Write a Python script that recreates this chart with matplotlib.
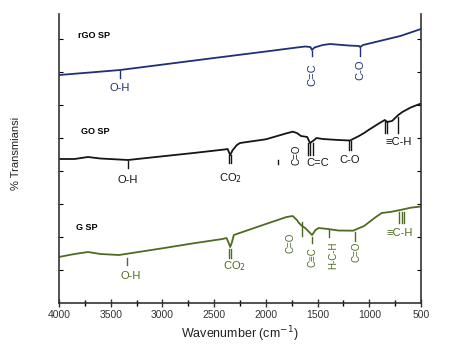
import numpy as np
import matplotlib
matplotlib.use("Agg")
import matplotlib.pyplot as plt

plt.rcParams['font.family'] = ['Liberation Sans', 'DejaVu Sans']

# wavenumbers (cm-1) and offset transmittance (arbitrary units) for each sample
rgo_wn = [4000, 3700, 3410, 3000, 2500, 2000, 1700, 1620, 1570, 1553, 1530, 1450,
          1380, 1200, 1100, 1089, 1060, 900, 700, 500]
rgo_t = [228, 230.5, 233, 238.4, 245, 251.5, 255.5, 256.5, 256, 253, 255.5, 258,
         259, 257.5, 257, 256, 258, 262, 267, 274]

go_wn = [4000, 3850, 3720, 3600, 3333, 3000, 2700, 2400, 2370, 2345, 2320, 2280,
         2250, 2000, 1800, 1740, 1700, 1660, 1600, 1573, 1545, 1510, 1450, 1300,
         1186, 1100, 1050, 1000, 900, 850, 828, 780, 720, 680, 600, 500]
go_t = [144, 144, 146, 144.5, 143, 146.7, 150, 153.5, 154, 148, 153, 158,
        160, 163.7, 169.7, 171.3, 170, 167, 166, 160, 162, 165, 164, 163,
        162.5, 167, 170, 173.5, 180, 183, 181, 182, 188, 191, 195.5, 199.5]

g_wn = [4000, 3850, 3720, 3600, 3420, 3000, 2700, 2420, 2380, 2355, 2345, 2330,
        2310, 2000, 1800, 1740, 1700, 1680, 1650, 1620, 1553, 1520, 1490, 1400,
        1300, 1157, 1050, 950, 880, 800, 700, 600, 500]
g_t = [46, 49, 51, 49, 48, 54.7, 59.7, 64, 65, 59, 56, 60,
       68, 79, 86, 87, 83, 80, 77, 75, 68, 73, 75, 74,
       72.5, 72.3, 77, 85, 90, 91, 93, 95.3, 96.5]

xticks = [4000, 3500, 3000, 2500, 2000, 1500, 1000, 500]

BLUE = '#1f2f78'
BLACK = '#151515'
GREEN = '#4f6b22'


def mark(ax, wn, top, bottom, n, color):
    # n short vertical strokes (single/double/triple bond sign)
    for k in range(n):
        x = wn + (k - (n - 1) / 2) * 24
        ax.plot([x, x], [top, bottom], color=color, lw=1.0)


def main():
    fig = plt.figure(figsize=(4.49, 3.56), dpi=100)
    ax = fig.add_axes([59 / 449, 53 / 356, 362 / 449, 289 / 356])

    ax.plot(rgo_wn, rgo_t, color=BLUE, lw=1.3)
    ax.plot(go_wn, go_t, color=BLACK, lw=1.3)
    ax.plot(g_wn, g_t, color=GREEN, lw=1.3)

    ax.set_xlim(4000, 500)
    ax.set_ylim(0, 289)

    # rGO SP
    ax.text(3816, 267, 'rGO SP', fontsize=6.5, fontweight='bold', va='center')
    mark(ax, 3410, 232, 225, 1, BLUE)
    ax.text(3410, 215, 'O-H', color=BLUE, fontsize=8, ha='center', va='center')
    mark(ax, 1553, 252, 247, 1, BLUE)
    ax.text(1553, 228, 'C=C', color=BLUE, fontsize=8, ha='center', va='center', rotation=90)
    mark(ax, 1089, 256, 247, 1, BLUE)
    ax.text(1089, 233, 'C-O', color=BLUE, fontsize=8, ha='center', va='center', rotation=90)

    # GO SP
    ax.text(3787, 171, 'GO SP', fontsize=6.5, fontweight='bold', va='center')
    mark(ax, 3333, 142, 135, 1, BLACK)
    ax.text(3333, 123, 'O-H', color=BLACK, fontsize=8, ha='center', va='center')
    mark(ax, 2345, 148, 140, 2, BLACK)
    ax.text(2345, 125, 'CO$_2$', color=BLACK, fontsize=8, ha='center', va='center')
    mark(ax, 1883, 143, 139, 1, BLACK)
    ax.text(1700, 148, 'C=O', color=BLACK, fontsize=7, ha='center', va='center', rotation=90)
    mark(ax, 1573, 160, 148, 3, BLACK)
    ax.text(1500, 140, 'C=C', color=BLACK, fontsize=8, ha='center', va='center')
    mark(ax, 1186, 162, 153, 2, BLACK)
    ax.text(1186, 143, 'C-O', color=BLACK, fontsize=8, ha='center', va='center')
    mark(ax, 838, 182, 170, 2, BLACK)
    mark(ax, 720, 186, 170, 1, BLACK)
    ax.text(720, 161, '\u2261C-H', color=BLACK, fontsize=8, ha='center', va='center')

    # G SP
    ax.text(3836, 75, 'G SP', fontsize=6.5, fontweight='bold', va='center')
    mark(ax, 3340, 45, 38, 1, GREEN)
    ax.text(3310, 27, 'O-H', color=GREEN, fontsize=8, ha='center', va='center')
    mark(ax, 2345, 54, 45, 2, GREEN)
    ax.text(2308, 37, 'CO$_2$', color=GREEN, fontsize=8, ha='center', va='center')
    mark(ax, 1650, 81, 67, 1, GREEN)
    ax.text(1757, 60, 'C=O', color=GREEN, fontsize=7, ha='center', va='center', rotation=90)
    mark(ax, 1553, 66, 60, 1, GREEN)
    ax.text(1553, 46, 'C\u2261C', color=GREEN, fontsize=7, ha='center', va='center', rotation=90)
    mark(ax, 1390, 73, 66, 1, GREEN)
    ax.text(1350, 48, 'H-C-H', color=GREEN, fontsize=7, ha='center', va='center', rotation=90)
    mark(ax, 1138, 71, 62, 1, GREEN)
    ax.text(1128, 51, 'C=O', color=GREEN, fontsize=7, ha='center', va='center', rotation=90)
    mark(ax, 684, 91, 80, 3, GREEN)
    ax.text(703, 70, '\u2261C-H', color=GREEN, fontsize=8, ha='center', va='center')

    # axes styling
    ax.spines['top'].set_visible(False)
    for s in ['left', 'right', 'bottom']:
        ax.spines[s].set_linewidth(1.2)
        ax.spines[s].set_color('#333333')
    ax.set_xticks(xticks)
    ax.set_xticks(np.arange(3750, 500, -500), minor=True)
    ax.tick_params(axis='x', which='major', direction='inout', length=6, width=1,
                   labelsize=7.5, colors='#333333', pad=2)
    ax.tick_params(axis='x', which='minor', direction='inout', length=4, width=1)
    ax.set_yticks(np.arange(33, 280, 33))
    ax.tick_params(axis='y', which='major', direction='in', length=3, left=True,
                   right=True, labelleft=False)
    ax.set_xlabel('Wavenumber (cm$^{-1}$)', fontsize=9, color='#222222', labelpad=3)
    fig.text(16 / 449, 0.57, '% Transmiansi', rotation=90, fontsize=8,
             ha='center', va='center', color='#222222')

    fig.savefig('out.png', dpi=100)


if __name__ == "__main__":
    main()
